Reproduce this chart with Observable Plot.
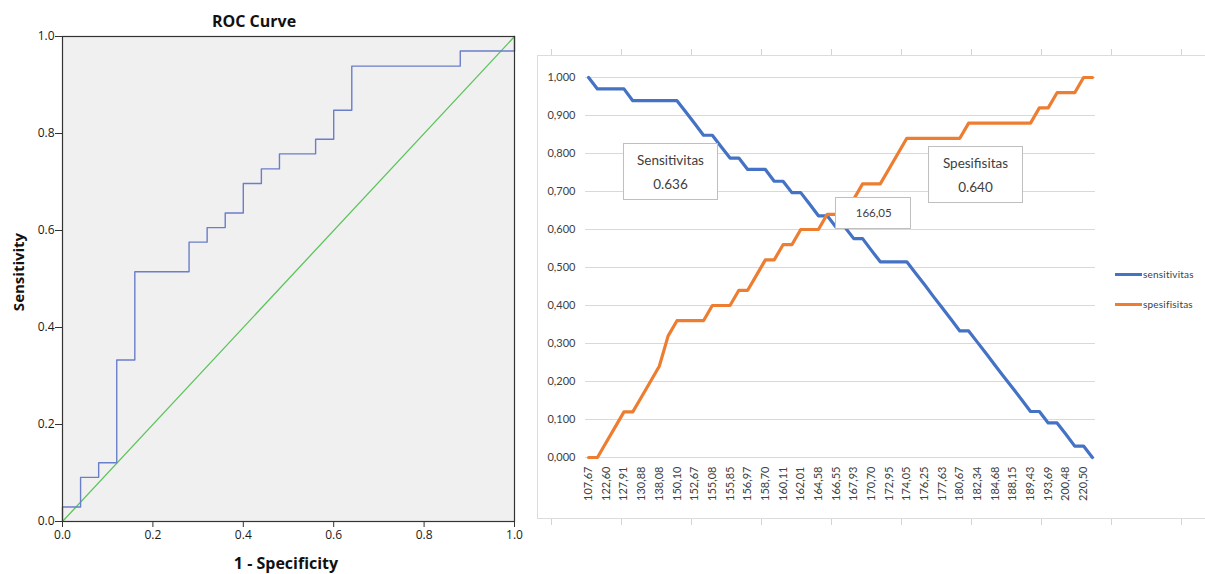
<!DOCTYPE html>
<html>
<head>
<meta charset="utf-8">
<script src="https://cdn.jsdelivr.net/npm/d3@7"></script>
<script src="https://cdn.jsdelivr.net/npm/@observablehq/plot@0.6"></script>
<style>
  body { margin: 0; background: #fff; }
  #wrap { position: relative; width: 1205px; height: 574px; overflow: hidden; background: #fff; }
  .abs { position: absolute; }
  .roc-lab { font-family: "Open Sans", sans-serif; font-weight: 700; color: #111; white-space: nowrap; }
  .box { position: absolute; background: #fff; border: 1px solid #bfbfbf; box-sizing: border-box;
         font-family: Lato, "Open Sans", sans-serif; color: #404040; text-align: center; }
  .leg { position: absolute; font-family: Lato, sans-serif; font-size: 10px; color: #404040; letter-spacing: 0.2px; white-space: nowrap; }
  .leg i { display: inline-block; width: 27px; height: 3px; vertical-align: middle; margin-right: 1px; position: relative; top: -1px; }
</style>
</head>
<body>
<div id="wrap"></div>
<script>
// ---- data ----
// cutoff labels shown on the x axis (every other category)
const cutLabels = ["107,67","122,60","127,91","130,88","138,08","150,10","152,67","155,08","155,85","156,97",
  "158,70","160,11","162,01","164,58","166,55","167,93","170,70","172,95","174,05","176,25",
  "177,63","180,67","182,34","184,68","188,15","189,43","193,69","200,48","220,50"];
// sensitivity per cutoff index
const sens = [1.000,0.970,0.970,0.970,0.970,0.939,0.939,0.939,0.939,0.939,
  0.939,0.909,0.879,0.848,0.848,0.818,0.788,0.788,0.758,0.758,
  0.758,0.727,0.727,0.697,0.697,0.667,0.636,0.636,0.606,0.606,
  0.576,0.576,0.545,0.515,0.515,0.515,0.515,0.485,0.455,0.424,
  0.394,0.364,0.333,0.333,0.303,0.273,0.242,0.212,0.182,0.152,
  0.121,0.121,0.091,0.091,0.061,0.030,0.030,0.000];
// specificity per cutoff index
const spec = [0.00,0.00,0.04,0.08,0.12,0.12,0.16,0.20,0.24,0.32,
  0.36,0.36,0.36,0.36,0.40,0.40,0.40,0.44,0.44,0.48,
  0.52,0.52,0.56,0.56,0.60,0.60,0.60,0.64,0.64,0.68,
  0.68,0.72,0.72,0.72,0.76,0.80,0.84,0.84,0.84,0.84,
  0.84,0.84,0.84,0.88,0.88,0.88,0.88,0.88,0.88,0.88,
  0.88,0.92,0.92,0.96,0.96,0.96,1.00,1.00];
const rocTicks = [0, 0.2, 0.4, 0.6, 0.8, 1.0];
const yTicks = [0, 0.1, 0.2, 0.3, 0.4, 0.5, 0.6, 0.7, 0.8, 0.9, 1.0];
const cutIndex = 27;            // optimal cutoff 166,05
const cutText = "166,05";
const seriesNames = ["sensitivitas", "spesifisitas"];
const seriesColors = ["#4472c4", "#ed7d31"];

const rows = sens.map((s, i) => ({i, sens: s, spec: spec[i]}));
const roc = rows.map(d => ({fpr: 1 - d.spec, tpr: d.sens}));

const wrap = document.getElementById("wrap");

// ---- left: ROC curve ----
const left = Plot.plot({
  width: 530, height: 574,
  marginLeft: 62, marginRight: 16, marginTop: 36, marginBottom: 53,
  style: {fontFamily: "'Open Sans', sans-serif", fontSize: "12px", color: "#1a1a1a", background: "transparent"},
  x: {domain: [0, 1]},
  y: {domain: [0, 1]},
  marks: [
    Plot.frame({fill: "#f0f0f0", stroke: null}),
    Plot.line([0, 1], {x: d => d, y: d => d, stroke: "#5cc45c", strokeWidth: 1.3}),
    Plot.line(roc, {x: "fpr", y: "tpr", stroke: "#6a7ec9", strokeWidth: 1.4}),
    Plot.frame({stroke: "#333", strokeWidth: 1.2}),
    Plot.axisX({ticks: rocTicks, tickFormat: d3.format(".1f"), tickSize: 6, tickPadding: 3, label: null, stroke: "#333"}),
    Plot.axisY({ticks: rocTicks, tickFormat: d3.format(".1f"), tickSize: 7, tickPadding: 1, label: null, stroke: "#333"})
  ]
});
left.style.position = "absolute"; left.style.left = "0px"; left.style.top = "0px";
wrap.appendChild(left);

function addDiv(cls, css, html) {
  const d = document.createElement("div");
  d.className = cls; d.style.cssText = css; d.innerHTML = html;
  wrap.appendChild(d); return d;
}
addDiv("abs roc-lab", "left:254px;top:21px;transform:translate(-50%,-50%);font-size:16px;", "ROC Curve");
addDiv("abs roc-lab", "left:286px;top:563px;transform:translate(-50%,-50%);font-size:16px;", "1 - Specificity");
addDiv("abs roc-lab", "left:18px;top:272px;transform:translate(-50%,-50%) rotate(-90deg);font-size:15px;", "Sensitivity");

// ---- right: sensitivity / specificity by cutoff ----
// outer frame
addDiv("abs", "left:537px;top:55px;width:720px;height:464px;border:1.5px solid #dcdcdc;box-sizing:border-box;", "");
addDiv("abs", "left:551px;top:49px;width:660px;height:6px;background:repeating-linear-gradient(90deg,#d4d4d4 0 1px,transparent 1px 70px);", "");
addDiv("abs", "left:551px;top:519px;width:660px;height:6px;background:repeating-linear-gradient(90deg,#d4d4d4 0 1px,transparent 1px 70px);", "");

const evenIdx = cutLabels.map((_, k) => 2 * k);
const right = Plot.plot({
  width: 675, height: 574,
  marginLeft: 55, marginRight: 110, marginTop: 77, marginBottom: 117,
  style: {fontFamily: "Lato, sans-serif", fontSize: "11px", color: "#404040", background: "transparent", overflow: "visible"},
  x: {domain: [-0.35, rows.length - 1 + 0.35]},
  y: {domain: [0, 1]},
  marks: [
    Plot.gridY(yTicks, {stroke: "#d9d9d9", strokeOpacity: 1, strokeWidth: 1}),
    Plot.axisY({ticks: yTicks, tickSize: 0, tickPadding: 10, label: null,
      tickFormat: d => d3.format(".3f")(d).replace(".", ",")}),
    Plot.axisX({ticks: evenIdx, tickSize: 0, tickPadding: 9, tickRotate: -90, label: null,
      tickFormat: i => cutLabels[i / 2]}),
    Plot.line(rows, {x: "i", y: "sens", stroke: seriesColors[0], strokeWidth: 3.2, strokeLinejoin: "round"}),
    Plot.line(rows, {x: "i", y: "spec", stroke: seriesColors[1], strokeWidth: 3.2, strokeLinejoin: "round"})
  ]
});
right.style.position = "absolute"; right.style.left = "530px"; right.style.top = "0px";
wrap.appendChild(right);

const sx = right.scale("x"), sy = right.scale("y");
const cx = 530 + sx.apply(cutIndex), cy = sy.apply(spec[cutIndex]);

// annotation boxes
addDiv("box", "left:623px;top:143px;width:95px;height:57px;font-size:13.5px;line-height:24px;padding-top:4px;",
  "Sensitivitas<br>" + sens[cutIndex].toFixed(3));
addDiv("box", "left:928px;top:146px;width:95px;height:57px;font-size:13.5px;line-height:24px;padding-top:4px;",
  "Spesifisitas<br>" + spec[cutIndex].toFixed(3));
addDiv("box", `left:${cx + 8}px;top:${cy - 17}px;width:76px;height:32px;font-size:11.5px;line-height:30px;text-align:left;padding-left:20px;`,
  cutText);

// legend
seriesNames.forEach((n, k) => {
  addDiv("leg", `left:1115px;top:${268 + k * 30}px;`, `<i style="background:${seriesColors[k]}"></i>${n}`);
});
</script>
</body>
</html>
